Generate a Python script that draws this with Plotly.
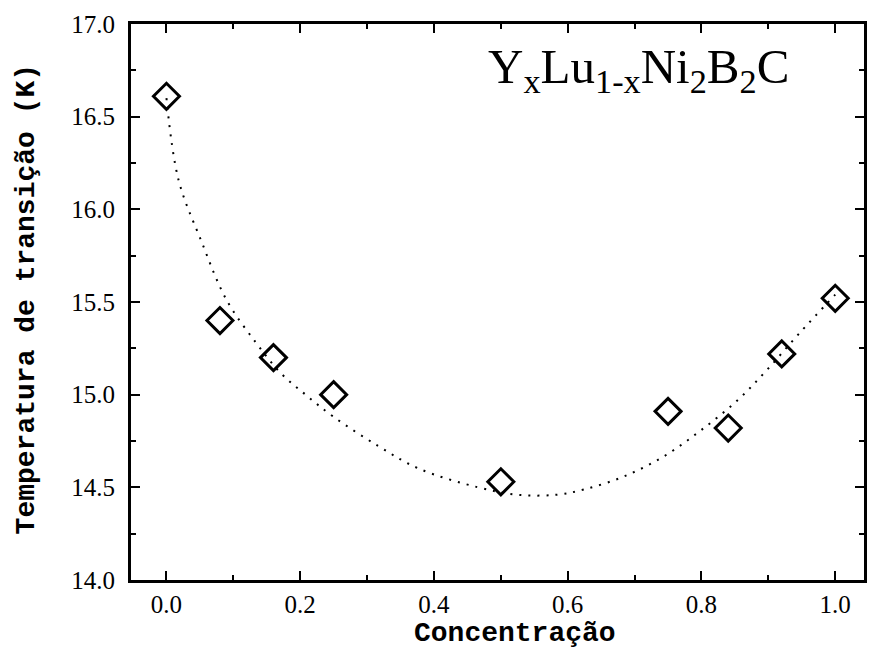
import plotly.graph_objects as go

# Measured data points
conc = [0.0, 0.08, 0.16, 0.25, 0.50, 0.75, 0.84, 0.92, 1.0]
tc = [16.61, 15.40, 15.20, 15.00, 14.53, 14.91, 14.82, 15.22, 15.52]

# Dotted guide curve
fit_x = [0.0, 0.018, 0.052, 0.09, 0.134, 0.17, 0.208, 0.25, 0.318, 0.378,
         0.466, 0.525, 0.583, 0.626, 0.685, 0.745, 0.80, 0.854, 0.897, 0.946, 1.0]
fit_y = [16.60, 16.16, 15.83, 15.51, 15.28, 15.12, 15.00, 14.88, 14.72, 14.60,
         14.50, 14.46, 14.46, 14.49, 14.56, 14.67, 14.81, 14.97, 15.13, 15.33, 15.54]

x_ticks = [0.0, 0.2, 0.4, 0.6, 0.8, 1.0]
x_ticklabels = ["0.0", "0.2", "0.4", "0.6", "0.8", "1.0"]
y_ticks = [14.0, 14.5, 15.0, 15.5, 16.0, 16.5, 17.0]
y_ticklabels = ["14.0", "14.5", "15.0", "15.5", "16.0", "16.5", "17.0"]

fig = go.Figure()
fig.add_trace(go.Scatter(
    x=fit_x, y=fit_y, mode="lines",
    line=dict(color="black", width=2, dash="2px,7px", shape="spline", smoothing=1.0),
    showlegend=False, hoverinfo="skip"))
fig.add_trace(go.Scatter(
    x=conc, y=tc, mode="markers",
    marker=dict(symbol="diamond-open", size=20, color="black", line=dict(color="black", width=3)),
    showlegend=False))

tickfont = dict(family="Liberation Serif", size=25, color="black")
fig.update_xaxes(
    range=[-0.053, 1.043], tickvals=x_ticks, ticktext=x_ticklabels,
    ticks="inside", ticklen=9, tickwidth=2, tickcolor="black",
    minor=dict(dtick=0.1, tick0=0, ticks="inside", ticklen=5, tickwidth=2, tickcolor="black"),
    showline=True, linecolor="black", linewidth=3, mirror="allticks",
    showgrid=False, zeroline=False, tickfont=tickfont, ticklabelstandoff=0)
fig.update_yaxes(
    range=[14.0, 17.0], tickvals=y_ticks, ticktext=y_ticklabels,
    ticks="inside", ticklen=9, tickwidth=2, tickcolor="black",
    minor=dict(dtick=0.25, tick0=14, ticks="inside", ticklen=5, tickwidth=2, tickcolor="black"),
    showline=True, linecolor="black", linewidth=3, mirror="allticks",
    showgrid=False, zeroline=False, tickfont=tickfont, ticklabelstandoff=8)

fig.add_annotation(
    text="Y<sub>x</sub>Lu<sub>1-x</sub>Ni<sub>2</sub>B<sub>2</sub>C",
    xref="paper", yref="paper", x=0.693, y=0.918, xanchor="center", yanchor="middle",
    showarrow=False, font=dict(family="Liberation Serif", size=49, color="black"))
fig.add_annotation(
    text="<b>Concentração</b>", xref="paper", yref="paper", x=0.524, y=-0.097,
    xanchor="center", yanchor="middle", showarrow=False,
    font=dict(family="Liberation Mono", size=28, color="black"))
fig.add_annotation(
    text="<b>Temperatura de transição (K)</b>", xref="paper", yref="paper",
    x=-0.143, y=0.505, xanchor="center", yanchor="middle", textangle=-90,
    showarrow=False, font=dict(family="Liberation Mono", size=28, color="black"))

fig.update_layout(
    width=872, height=650, margin=dict(l=131, r=5, t=24, b=70),
    paper_bgcolor="white", plot_bgcolor="white")

fig.write_html("out.html")
